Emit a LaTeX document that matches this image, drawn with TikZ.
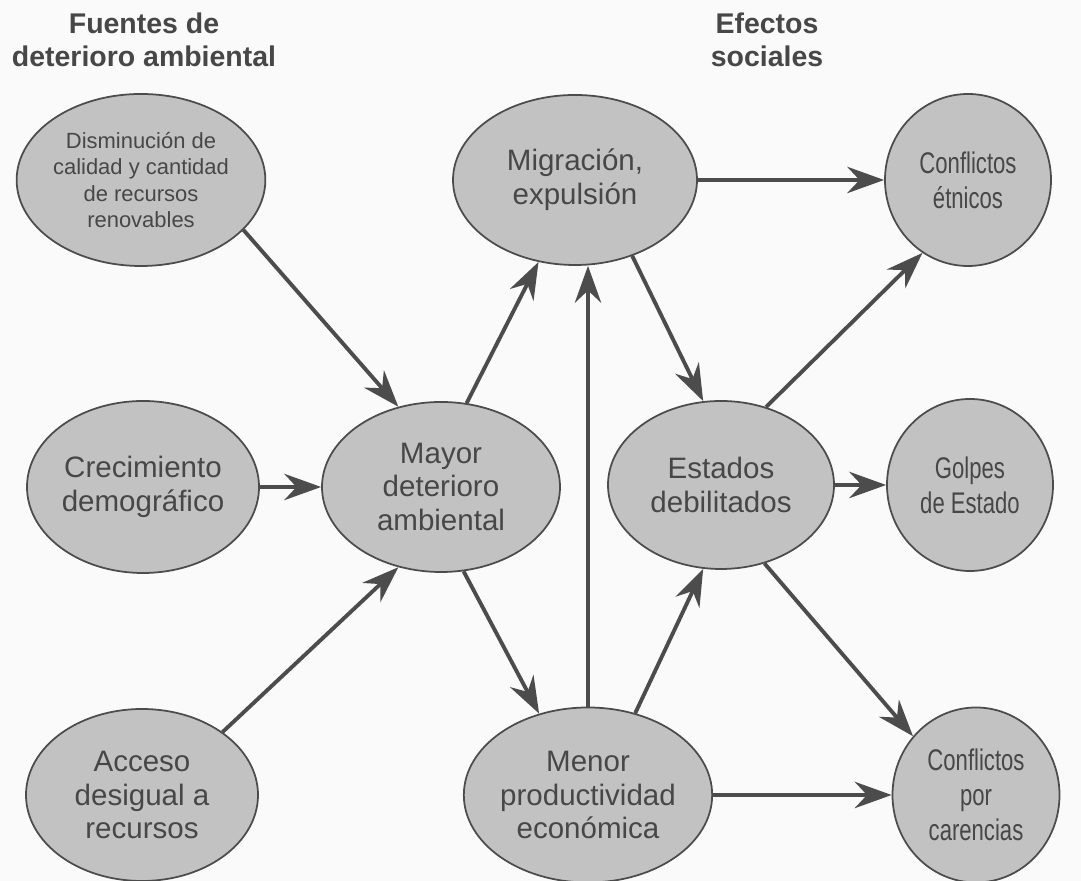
\documentclass[tikz,border=0pt]{standalone}
\usepackage{fontspec}
\setmainfont{Liberation Sans}
\newfontfamily\narrowfont[FakeStretch=0.74]{Liberation Sans}
\usepackage{tikz}
\usetikzlibrary{arrows.meta,shapes}
\definecolor{bubbleGray}{gray}{0.76}
\definecolor{lineGray}{gray}{0.30}
\definecolor{textGray}{gray}{0.28}
\tikzstyle{edge}=[draw=lineGray, line width=2.2pt, >={Stealth[length=21pt, width=15pt, inset=7pt]}, ->]
\tikzstyle{bigE}=[ellipse, fill=bubbleGray, draw=lineGray, line width=1pt, inner sep=0pt, align=center, text=textGray, font=\fontsize{16.8}{19.3}\selectfont]
\tikzstyle{smallE}=[ellipse, fill=bubbleGray, draw=lineGray, line width=1pt, inner sep=0pt, align=center, text=textGray, font=\narrowfont\fontsize{17}{20}\selectfont, minimum width=3.32cm, minimum height=3.44cm]
\tikzstyle{head}=[align=center, text=textGray, font=\bfseries\fontsize{16.2}{18.7}\selectfont]

\begin{document}
\begin{tikzpicture}
      \useasboundingbox[fill=gray!4] (0, 0) rectangle (21.62, 17.62);
      \node(h1) [head] at (2.88, 16.82){Fuentes de\\deterioro ambiental};
      \node(h2) [head] at (15.34, 16.82){Efectos\\sociales};
      % causas
      \node(dism) [bigE, minimum width=4.64cm, minimum height=3.44cm, font=\fontsize{12.5}{15.1}\selectfont] at (2.82, 14.02){Disminución de\\calidad y cantidad\\de recursos\\renovables};
      \node(crec) [bigE, minimum width=4.64cm, minimum height=3.44cm] at (2.86, 7.88){Crecimiento\\demográfico};
      \node(acc) [bigE, minimum width=4.64cm, minimum height=3.44cm] at (2.84, 1.72){Acceso\\desigual a\\recursos};
      \node(mayor) [bigE, minimum width=4.76cm, minimum height=3.4cm] at (8.82, 7.88){Mayor\\deterioro\\ambiental};
      \node(migr) [bigE, minimum width=4.88cm, minimum height=3.4cm] at (11.5, 14.02){Migración,\\expulsión};
      \node(est) [bigE, minimum width=4.52cm, minimum height=3.36cm] at (14.42, 7.92){Estados\\debilitados};
      \node(menor) [bigE, minimum width=4.8cm, minimum height=3.5cm] at (11.76, 1.72){Menor\\productividad\\económica};
      % efectos
      \node(etn) [smallE] at (19.36, 14.02){Conflictos\\étnicos};
      \node(golpes) [smallE] at (19.4, 7.92){Golpes\\de Estado};
      \node(car) [smallE, minimum width=3.34cm, minimum height=3.5cm] at (19.52, 1.72){Conflictos\\por\\carencias};
      \draw[edge] (dism.-26) to (mayor.118);
      \draw[edge] (crec) to (mayor);
      \draw[edge] (acc.38) to (mayor.242);
      \draw[edge] (mayor.73) to (migr.246);
      \draw[edge] (mayor.-75) to (menor.121);
      \draw[edge] (menor.north) to (menor.north |- migr.south);
      \draw[edge] (migr.-53) to (est.102);
      \draw[edge] (migr) to (etn);
      \draw[edge] (est.60) to (etn.238);
      \draw[edge] (est) to (golpes);
      \draw[edge] (est.-61) to (car.137);
      \draw[edge] (menor.60) to (est.258);
      \draw[edge] (menor) to (car);
\end{tikzpicture}
\end{document}
